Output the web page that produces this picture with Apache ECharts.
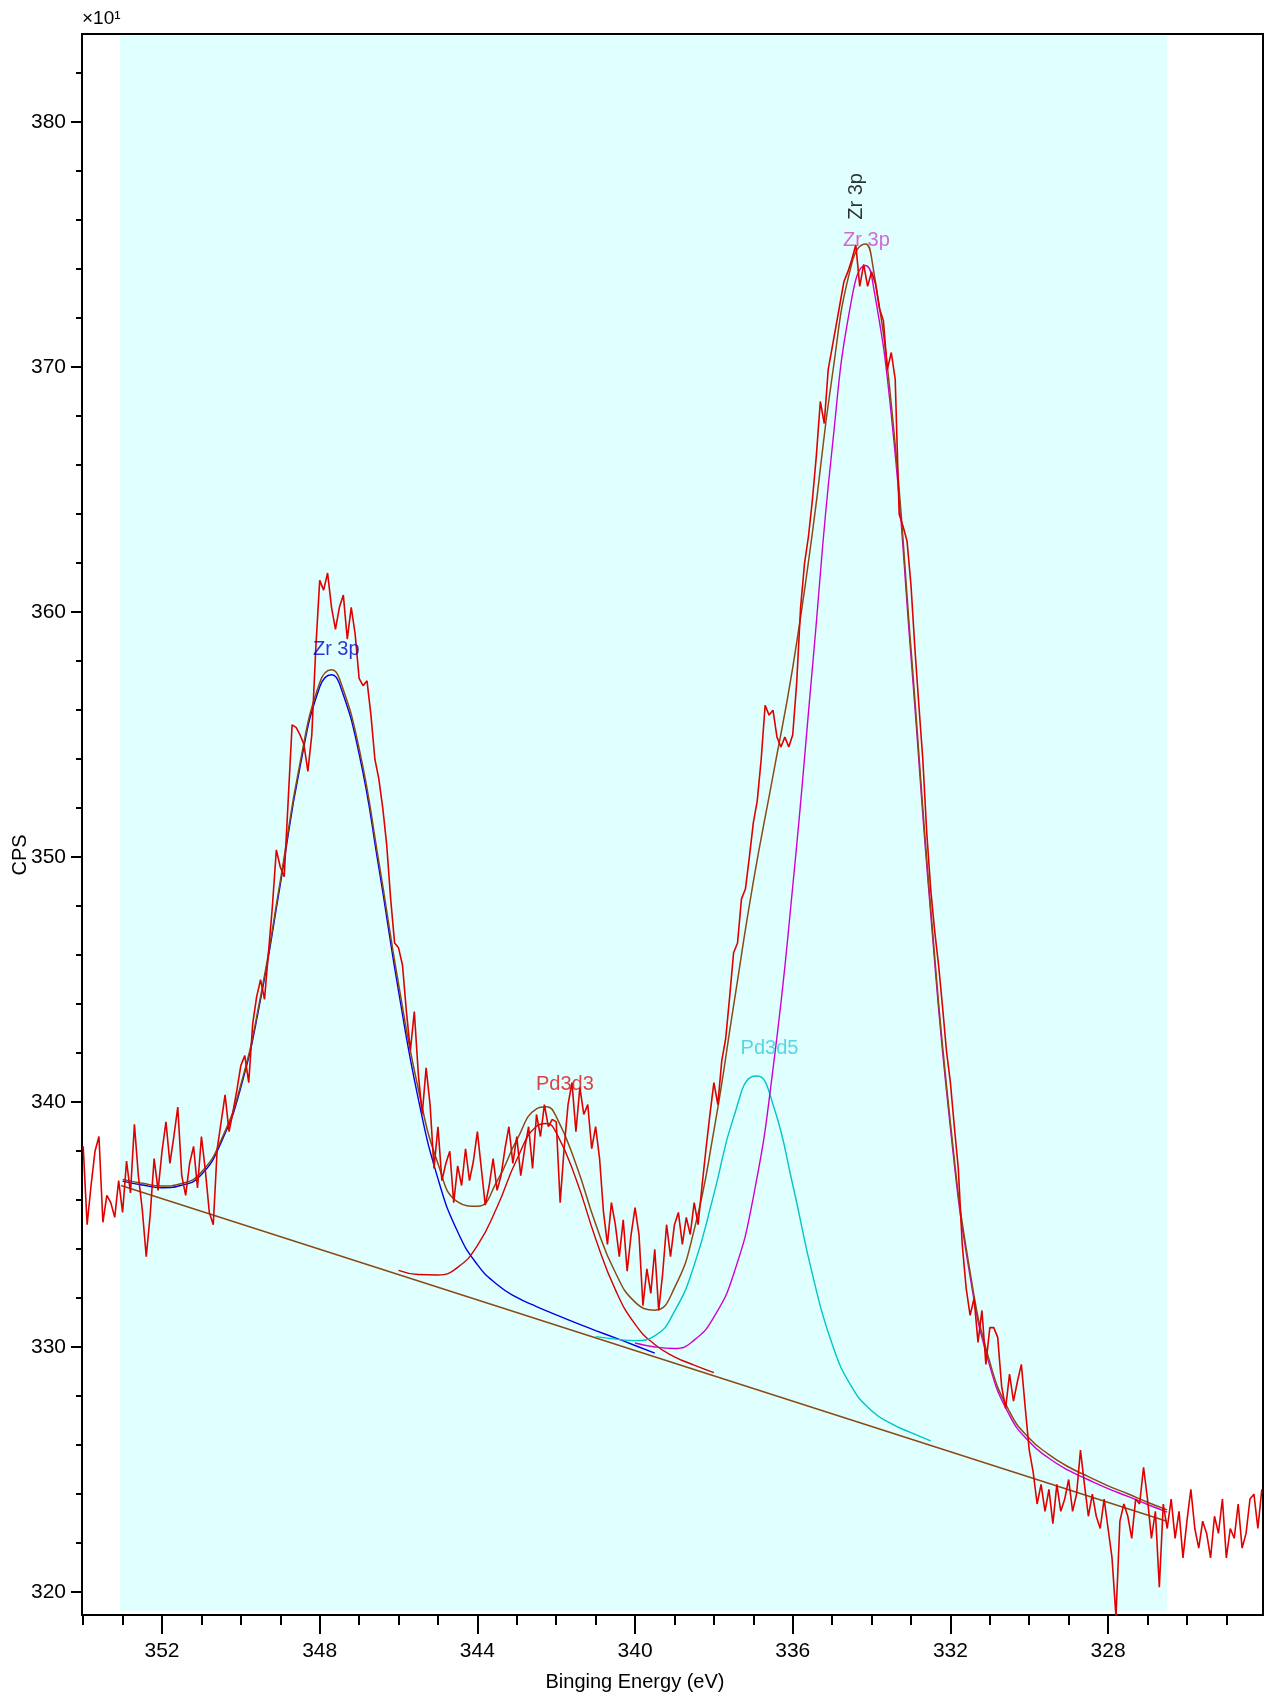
<!DOCTYPE html>
<html><head><meta charset="utf-8">
<script src="https://cdn.jsdelivr.net/npm/echarts@6/dist/echarts.min.js"></script>
<style>html,body{margin:0;padding:0;background:#fff}#c{width:1271px;height:1698px}</style>
</head><body><div id="c"></div>
<script>
// Raw spectrum: binding energy (eV) and counts (CPS, x10)
const rawE = [
354.0,353.9,353.8,353.7,353.6,353.5,353.4,353.3,353.2,353.1,
353.0,352.9,352.8,352.7,352.6,352.5,352.4,352.3,352.2,352.1,
352.0,351.9,351.8,351.7,351.6,351.5,351.4,351.3,351.2,351.1,
351.0,350.9,350.8,350.7,350.6,350.5,350.4,350.3,350.2,350.1,
350.0,349.9,349.8,349.7,349.6,349.5,349.4,349.3,349.2,349.1,
349.0,348.9,348.8,348.7,348.6,348.5,348.4,348.3,348.2,348.1,
348.0,347.9,347.8,347.7,347.6,347.5,347.4,347.3,347.2,347.1,
347.0,346.9,346.8,346.7,346.6,346.5,346.4,346.3,346.2,346.1,
346.0,345.9,345.8,345.7,345.6,345.5,345.4,345.3,345.2,345.1,
345.0,344.9,344.8,344.7,344.6,344.5,344.4,344.3,344.2,344.1,
344.0,343.9,343.8,343.7,343.6,343.5,343.4,343.3,343.2,343.1,
343.0,342.9,342.8,342.7,342.6,342.5,342.4,342.3,342.2,342.1,
342.0,341.9,341.8,341.7,341.6,341.5,341.4,341.3,341.2,341.1,
341.0,340.9,340.8,340.7,340.6,340.5,340.4,340.3,340.2,340.1,
340.0,339.9,339.8,339.7,339.6,339.5,339.4,339.3,339.2,339.1,
339.0,338.9,338.8,338.7,338.6,338.5,338.4,338.3,338.2,338.1,
338.0,337.9,337.8,337.7,337.6,337.5,337.4,337.3,337.2,337.1,
337.0,336.9,336.8,336.7,336.6,336.5,336.4,336.3,336.2,336.1,
336.0,335.9,335.8,335.7,335.6,335.5,335.4,335.3,335.2,335.1,
335.0,334.9,334.8,334.7,334.6,334.5,334.4,334.3,334.2,334.1,
334.0,333.9,333.8,333.7,333.6,333.5,333.4,333.3,333.2,333.1,
333.0,332.9,332.8,332.7,332.6,332.5,332.4,332.3,332.2,332.1,
332.0,331.9,331.8,331.7,331.6,331.5,331.4,331.3,331.2,331.1,
331.0,330.9,330.8,330.7,330.6,330.5,330.4,330.3,330.2,330.1,
330.0,329.9,329.8,329.7,329.6,329.5,329.4,329.3,329.2,329.1,
329.0,328.9,328.8,328.7,328.6,328.5,328.4,328.3,328.2,328.1,
328.0,327.9,327.8,327.7,327.6,327.5,327.4,327.3,327.2,327.1,
327.0,326.9,326.8,326.7,326.6,326.5,326.4,326.3,326.2,326.1,
326.0,325.9,325.8,325.7,325.6,325.5,325.4,325.3,325.2,325.1,
325.0,324.9,324.8,324.7,324.6,324.5,324.4,324.3,324.2,324.1
];
const rawCPS = [
338.2,335.0,336.6,338.0,338.6,335.1,336.2,335.9,335.3,336.8,
335.5,337.6,336.3,339.1,337.0,335.6,333.7,335.4,337.7,336.4,
338.0,339.2,337.5,338.6,339.8,337.0,336.2,337.5,338.2,336.5,
338.6,337.2,335.5,335.0,338.1,339.2,340.3,338.8,339.6,340.5,
341.5,341.9,340.8,343.2,344.3,345.0,344.2,346.1,348.0,350.3,
349.6,349.2,352.3,355.4,355.3,355.0,354.6,353.5,355.0,358.5,
361.3,360.9,361.6,360.2,359.3,360.2,360.7,358.9,360.2,359.1,
357.3,357.0,357.2,355.8,354.0,353.2,352.0,350.5,348.3,346.5,
346.3,345.6,343.7,342.1,343.7,341.2,339.5,341.4,339.9,337.3,
339.0,336.8,337.5,338.0,335.9,337.4,336.6,338.1,336.8,337.6,
338.8,337.3,335.8,336.6,337.7,336.4,337.0,338.1,339.0,337.5,
338.6,337.0,338.1,339.0,337.3,339.5,338.6,339.9,339.0,339.3,
339.2,335.9,338.1,339.9,340.8,338.8,340.6,339.5,339.9,338.1,
339.0,337.7,335.5,334.2,335.9,335.0,333.7,335.2,333.1,334.6,
335.7,334.6,331.7,333.2,332.2,334.0,331.5,333.0,335.0,333.7,
335.0,335.5,334.2,335.3,334.6,335.9,335.0,336.6,338.1,339.5,
340.8,339.9,341.7,342.6,344.3,346.1,346.5,348.3,348.7,350.0,
351.4,352.3,354.0,356.2,355.8,356.0,354.9,354.5,354.9,354.5,
355.0,357.1,360.2,362.0,363.1,364.6,366.4,368.6,367.7,369.9,
370.8,371.7,372.6,373.5,373.9,374.4,375.0,373.3,374.2,373.3,
373.9,373.4,372.4,371.9,369.9,370.6,369.5,364.0,363.5,362.9,
361.1,358.5,356.2,354.0,351.0,348.7,347.0,345.6,343.9,342.1,
340.8,339.0,337.3,334.2,332.4,331.3,332.0,330.2,331.5,329.3,
330.8,330.8,330.4,328.4,327.5,328.9,327.8,328.6,329.3,327.5,
325.8,324.9,323.6,324.4,323.3,324.2,322.8,324.4,323.3,323.8,
324.6,323.3,324.0,325.8,324.4,323.1,324.0,323.1,322.6,323.8,
322.6,321.4,319.0,322.9,323.6,323.1,322.2,323.8,323.6,325.1,
323.8,322.2,323.3,320.2,323.6,322.6,323.8,322.2,323.3,321.4,
322.9,324.2,322.6,321.8,322.9,322.4,321.4,323.1,322.4,323.8,
321.4,322.6,322.2,323.6,321.8,322.4,323.8,324.0,322.6,324.2
];

// Linear background
const bgE = [353.04, 326.51];
const bgCPS = [336.6, 322.9];

// Zr 3p (blue, ~347.7 eV) component + background
const zrBlueE = [353.0,352.5,352.0,351.5,351.0,350.5,350.0,349.5,349.0,348.5,348.0,347.7,347.5,347.0,346.5,346.0,345.5,345.0,344.5,344.0,343.5,343.0,342.5,342.0,341.5,341.0,340.5,340.0,339.5];
const zrBlueCPS = [336.78,336.62,336.51,336.61,337.05,338.36,340.61,344.20,348.88,353.68,356.95,357.45,357.09,354.22,349.57,344.53,340.15,336.88,334.71,333.37,332.56,332.03,331.66,331.32,330.99,330.68,330.38,330.07,329.76];

// Pd3d3 (red) component + background
const pd3d3E = [346.0,345.5,345.0,344.5,344.0,343.5,343.0,342.5,342.25,342.0,341.5,341.0,340.5,340.0,339.5,339.0,338.5,338.0];
const pd3d3CPS = [333.14,332.97,332.95,333.26,334.15,335.72,337.66,339.02,339.13,338.76,336.88,334.43,332.35,330.94,330.11,329.61,329.27,328.96];

// Pd3d5 (cyan) component + background
const pd3d5E = [341.0,340.5,340.0,339.5,339.0,338.5,338.0,337.5,337.0,336.9,336.5,336.0,335.5,335.0,334.5,334.0,333.5,333.0,332.5];
const pd3d5CPS = [330.43,330.33,330.27,330.46,331.46,333.35,336.25,339.38,341.06,341.07,339.91,336.63,332.97,330.13,328.37,327.41,326.88,326.51,326.18];

// Zr 3p (magenta, ~334.2 eV) component + background
const zrMagE = [340.0,339.5,339.0,338.5,338.0,337.5,337.0,336.5,336.0,335.5,335.0,334.5,334.15,334.0,333.5,333.0,332.5,332.0,331.5,331.0,330.5,330.0,329.5,329.0,328.5,328.0,327.5,327.0,326.5];
const zrMagCPS = [330.17,330.01,329.95,330.29,331.23,332.98,336.12,341.36,348.80,357.74,366.69,372.83,374.15,373.74,368.06,358.19,347.68,338.95,332.88,329.23,327.22,326.14,325.47,324.97,324.59,324.23,323.91,323.58,323.27];

// Envelope (sum of fit)
const envE = [353.0,352.5,352.0,351.5,351.0,350.5,350.0,349.5,349.0,348.5,348.0,347.7,347.5,347.0,346.5,346.0,345.5,345.0,344.5,344.0,343.5,343.0,342.5,342.25,342.0,341.5,341.0,340.5,340.0,339.5,339.0,338.5,338.0,337.5,337.0,336.5,336.0,335.5,335.0,334.5,334.15,334.0,333.5,333.0,332.5,332.0,331.5,331.0,330.5,330.0,329.5,329.0,328.5,328.0,327.5,327.0,326.5];
const envCPS = [336.85,336.69,336.58,336.68,337.15,338.46,340.72,344.32,349.02,353.84,357.12,357.65,357.29,354.44,349.82,344.83,340.55,337.50,335.93,335.75,336.78,338.46,339.73,339.81,339.41,337.48,335.03,333.05,331.84,331.51,332.42,334.79,338.84,343.94,348.99,353.33,357.74,363.26,369.62,374.25,375.03,374.46,368.50,358.52,347.93,339.16,333.06,329.39,327.37,326.28,325.62,325.11,324.72,324.34,324.02,323.67,323.36];

// Axis ticks
const xMajorTicks = [328,332,336,340,344,348,352];
const xMinorTicks = [325,326,327,328,329,330,331,332,333,334,335,336,337,338,339,340,341,342,343,344,345,346,347,348,349,350,351,352,353,354];
const yMajorTicks = [320,330,340,350,360,370,380];
const yMinorTicks = [320,322,324,326,328,330,332,334,336,338,340,342,344,346,348,350,352,354,356,358,360,362,364,366,368,370,372,374,376,378,380,382];

const zip = (a, b) => a.map((x, i) => [x, b[i]]);
const FONT = '"Liberation Sans", Arial, Helvetica, sans-serif';
const X_MIN = 324.07, X_MAX = 354.03, Y_MIN = 319.07, Y_MAX = 383.6;

function line(name, data, color, width, z) {
  return {name, type: 'line', data, showSymbol: false, symbol: 'none', smooth: false,
    lineStyle: {color, width}, z, animation: false, xAxisIndex: 0, yAxisIndex: 0};
}
function smoothLine(name, data, color, width, z) {
  const s = line(name, data, color, width, z); s.smooth = 0.5; return s;
}
function label(text, pos, color, rotate) {
  return {type: 'scatter', data: [pos], symbolSize: 0, z: 20, silent: true,
    label: {show: true, position: 'inside', formatter: text, color, fontSize: 20, fontFamily: FONT, rotate: rotate || 0}};
}

const chart = echarts.init(document.getElementById('c'), null, {renderer: 'canvas'});
chart.setOption({
  animation: false,
  backgroundColor: '#ffffff',
  grid: {left: 82, top: 34, width: 1181, height: 1581, show: true, borderColor: '#000', borderWidth: 2, backgroundColor: 'rgba(0,0,0,0)'},
  xAxis: [
    {type: 'value', inverse: true, min: X_MIN, max: X_MAX, position: 'bottom',
      axisLine: {show: true, onZero: false, lineStyle: {color: '#000', width: 2}},
      axisTick: {show: true, customValues: xMajorTicks, length: 19, lineStyle: {color: '#000', width: 2}},
      axisLabel: {show: true, customValues: xMajorTicks, color: '#000', fontSize: 21, fontFamily: FONT, margin: 26},
      splitLine: {show: false}},
    {type: 'value', inverse: true, min: X_MIN, max: X_MAX, position: 'bottom',
      axisLine: {show: false, onZero: false},
      axisTick: {show: true, customValues: xMinorTicks, length: 10, lineStyle: {color: '#000', width: 2}},
      axisLabel: {show: false}, splitLine: {show: false}}
  ],
  yAxis: [
    {type: 'value', min: Y_MIN, max: Y_MAX, position: 'left',
      axisLine: {show: true, onZero: false, lineStyle: {color: '#000', width: 2}},
      axisTick: {show: true, customValues: yMajorTicks, length: 11, lineStyle: {color: '#000', width: 2}},
      axisLabel: {show: true, customValues: yMajorTicks, color: '#000', fontSize: 21, fontFamily: FONT, margin: 16},
      splitLine: {show: false}},
    {type: 'value', min: Y_MIN, max: Y_MAX, position: 'left',
      axisLine: {show: false, onZero: false},
      axisTick: {show: true, customValues: yMinorTicks, length: 6, lineStyle: {color: '#000', width: 2}},
      axisLabel: {show: false}, splitLine: {show: false}}
  ],
  graphic: [
    {type: 'text', x: 82, y: 19, style: {text: '×10¹', font: '19px ' + FONT, fill: '#000', align: 'left', verticalAlign: 'middle', textAlign: 'left', textVerticalAlign: 'middle'}},
    {type: 'text', x: 635, y: 1682, style: {text: 'Binging Energy (eV)', font: '20px ' + FONT, fill: '#000', align: 'center', verticalAlign: 'middle', textAlign: 'center', textVerticalAlign: 'middle'}},
    {type: 'text', x: 20, y: 855, rotation: Math.PI / 2, style: {text: 'CPS', font: '20px ' + FONT, fill: '#000', align: 'center', verticalAlign: 'middle', textAlign: 'center', textVerticalAlign: 'middle'}}
  ],
  series: [
    {type: 'line', data: [], z: 1, silent: true,
      markArea: {silent: true, itemStyle: {color: '#e0ffff'},
        data: [[{coord: [353.07, 319.24]}, {coord: [326.5, 383.52]}]]}},
    line('Background', zip(bgE, bgCPS), '#8b4a14', 1.5, 3),
    smoothLine('Zr 3p (347.7)', zip(zrBlueE, zrBlueCPS), '#0000e6', 1.4, 4),
    smoothLine('Pd3d3', zip(pd3d3E, pd3d3CPS), '#d40000', 1.4, 4),
    smoothLine('Pd3d5', zip(pd3d5E, pd3d5CPS), '#00c4c8', 1.4, 4),
    smoothLine('Zr 3p (334.2)', zip(zrMagE, zrMagCPS), '#d000d0', 1.4, 4),
    smoothLine('Envelope', zip(envE, envCPS), '#8b4a14', 1.5, 5),
    line('Raw', zip(rawE, rawCPS), '#e00000', 1.6, 6),
    label('Zr 3p', [347.58, 358.46], '#0000cc'),
    label('Pd3d3', [341.78, 340.71], '#dd1111'),
    label('Pd3d5', [336.59, 342.2], '#33ccdd'),
    label('Zr 3p', [334.13, 375.17], '#cc44cc'),
    label('Zr 3p', [334.39, 376.97], '#000000', 90)
  ]
});
</script>
</body></html>
